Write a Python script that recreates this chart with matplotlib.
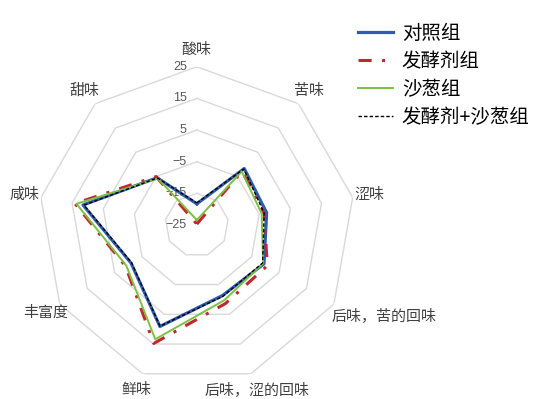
import numpy as np
import matplotlib.pyplot as plt

plt.rcParams['font.family'] = ['Noto Sans CJK SC', 'DejaVu Sans']

# 数据
categories = ['酸味', '苦味', '涩味', '后味，苦的回味', '后味，涩的回味',
              '鲜味', '丰富度', '咸味', '甜味']
ctrl = [-18.3, -1.7, -2.6, -0.5, -1.3, 9.1, -1.0, 11.5, -5.5]        # 对照组
ferm = [-24.7, -2.8, -3.4, 0.7, 1.4, 14.8, 1.0, 14.1, -5.0]          # 发酵剂组
shacong = [-23.4, -2.9, -4.2, -0.8, 0.3, 13.4, 0.7, 13.6, -5.8]      # 沙葱组
both = [-18.0, -1.9, -3.4, -1.0, -1.0, 9.0, -1.2, 11.2, -5.6]        # 发酵剂+沙葱组
series_names = ['对照组', '发酵剂组', '沙葱组', '发酵剂+沙葱组']
ticks = [-25, -15, -5, 5, 15, 25]

#%%
fig = plt.figure(figsize=(5.41, 3.99), dpi=100)
ax = fig.add_axes([0.0712, 0.0393, 0.5852, 0.7934], projection='polar')
ax.set_theta_zero_location('N')
ax.set_theta_direction(-1)
ax.set_ylim(-25, 25)
ax.grid(False)
ax.spines['polar'].set_visible(False)
ax.set_xticks([])
ax.set_yticks([])

n = len(categories)
ang = np.deg2rad(np.arange(n) * 360 / n)
ang_c = np.append(ang, ang[0])

def cerrar(v):
    return list(v) + [v[0]]

# anillos del nonágono
for t in ticks[1:]:
    ax.plot(ang_c, [t] * (n + 1), color='#d9d9d9', lw=1.0, zorder=1)

# etiquetas del eje radial
for t in ticks:
    ax.annotate(str(t).replace('-', '\u2212'), xy=(0, t), xytext=(-10, 0),
                textcoords='offset pixels', ha='right', va='center',
                fontsize=9, color='#595959', zorder=1,
                family=['Liberation Sans', 'DejaVu Sans'])

# series
ax.plot(ang_c, cerrar(ctrl), color='#2f5caf', lw=2.3, zorder=3, label=series_names[0])
ax.plot(ang_c, cerrar(ferm), color='#c0282d', lw=2.2, ls=(0, (4.3, 3.4, 1, 3.4)),
        zorder=3, label=series_names[1])
ax.plot(ang_c, cerrar(shacong), color='#7dc142', lw=1.4, zorder=4, label=series_names[2])
ax.plot(ang_c, cerrar(both), color='black', lw=1.0, ls=(0, (2.5, 1.5)),
        zorder=5, label=series_names[3])

# etiquetas de categorías
for i, c in enumerate(categories):
    a = ang[i]
    if c == '后味，苦的回味':
        ax.text(np.deg2rad(124), 26.2, c, ha='left', va='center', fontsize=10.8,
                color='#404040')
    else:
        ax.text(a, 30.3, c, ha='center', va='center', fontsize=10.8, color='#404040')

fig.legend(loc='upper left', bbox_to_anchor=(358 / 541, 1 - 23 / 399),
           frameon=False, fontsize=14, handlelength=1.8, handletextpad=0.45,
           labelspacing=0.36, borderpad=0, borderaxespad=0)

fig.savefig('out.png', dpi=100)
